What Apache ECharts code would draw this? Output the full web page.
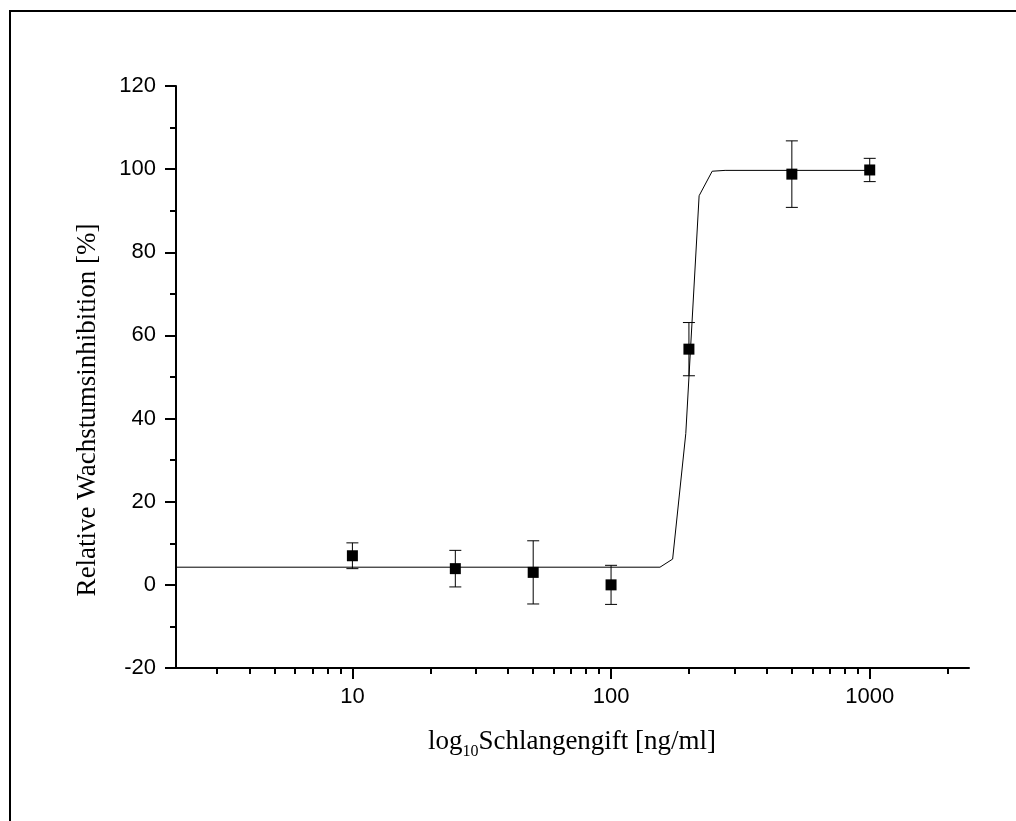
<!DOCTYPE html>
<html>
<head>
<meta charset="utf-8">
<style>
  html, body { margin: 0; padding: 0; background: #fff; }
  #chart { width: 1016px; height: 821px; }
</style>
<script src="https://cdn.jsdelivr.net/npm/echarts@6/dist/echarts.min.js"></script>
</head>
<body>
<div id="chart"></div>
<script>
// ---- data ----
const concentrations = [10, 25, 50, 100, 200, 500, 1000];
const inhibition     = [7.0, 3.9, 3.0, 0.0, 56.7, 98.8, 99.8];
const errors         = [3.1, 4.4, 7.6, 4.7, 6.4, 8.0, 2.8];

const fitX = [2.08, 154.6, 173, 194.5, 219, 246, 276, 1000];
const fitY = [4.25, 4.25, 6.2, 36.4, 93.6, 99.5, 99.7, 99.7];

const xMajorTicks = [10, 100, 1000];
const xMinorTicks = [3, 4, 5, 6, 7, 8, 9,
                     20, 30, 40, 50, 60, 70, 80, 90,
                     200, 300, 400, 500, 600, 700, 800, 900,
                     2000];
const xMin = 2.08, xMax = 2420;
const yMin = -20, yMax = 120, yInterval = 20;

const xTitleRich = '{a|log}{s|10}{a|Schlangengift [ng/ml]}';
const yTitle = 'Relative Wachstumsinhibition [%]';

// ---- chart ----
const chart = echarts.init(document.getElementById('chart'), null, { renderer: 'canvas' });

const sans = 'Liberation Sans, Arial, sans-serif';
const serif = 'Liberation Serif, Times New Roman, serif';

const option = {
  animation: false,
  backgroundColor: '#ffffff',
  grid: { left: 176, right: 47, top: 86, bottom: 153, containLabel: false },
  xAxis: [
    {
      type: 'log', logBase: 10, min: xMin, max: xMax, position: 'bottom',
      axisLine: { show: true, onZero: false, lineStyle: { color: '#000', width: 2 } },
      axisTick: { show: true, inside: false, length: 11, customValues: xMajorTicks,
                  lineStyle: { color: '#000', width: 2 } },
      axisLabel: { show: true, customValues: xMajorTicks, margin: 18,
                   formatter: function (v) { return String(Math.round(v)); },
                   color: '#000', fontFamily: sans, fontSize: 22 },
      splitLine: { show: false },
      minorTick: { show: false }
    },
    {
      type: 'log', logBase: 10, min: xMin, max: xMax, position: 'bottom',
      axisLine: { show: false, onZero: false },
      axisTick: { show: true, inside: false, length: 6, customValues: xMinorTicks,
                  lineStyle: { color: '#000', width: 2 } },
      axisLabel: { show: false },
      splitLine: { show: false }
    }
  ],
  yAxis: {
    type: 'value', min: yMin, max: yMax, interval: yInterval,
    axisLine: { show: true, onZero: false, lineStyle: { color: '#000', width: 2 } },
    axisTick: { show: true, inside: false, length: 11, lineStyle: { color: '#000', width: 2 } },
    minorTick: { show: true, splitNumber: 2, length: 6, lineStyle: { color: '#000', width: 2 } },
    axisLabel: { margin: 20, color: '#000', fontFamily: sans, fontSize: 22 },
    splitLine: { show: false },
    minorSplitLine: { show: false }
  },
  series: [
    {
      type: 'line',
      xAxisIndex: 0,
      data: fitX.map((x, i) => [x, fitY[i]]),
      showSymbol: false,
      symbol: 'none',
      lineStyle: { color: '#000', width: 1 },
      z: 2
    },
    {
      type: 'custom',
      xAxisIndex: 0,
      data: concentrations.map((x, i) => [x, inhibition[i] - errors[i], inhibition[i] + errors[i]]),
      renderItem: function (params, api) {
        const lo = api.coord([api.value(0), api.value(1)]);
        const hi = api.coord([api.value(0), api.value(2)]);
        const cap = 6;
        const st = { stroke: '#000', lineWidth: 1 };
        return {
          type: 'group',
          children: [
            { type: 'line', shape: { x1: lo[0], y1: lo[1], x2: hi[0], y2: hi[1] }, style: st },
            { type: 'line', shape: { x1: lo[0] - cap, y1: lo[1], x2: lo[0] + cap, y2: lo[1] }, style: st },
            { type: 'line', shape: { x1: hi[0] - cap, y1: hi[1], x2: hi[0] + cap, y2: hi[1] }, style: st }
          ]
        };
      },
      z: 3
    },
    {
      type: 'scatter',
      xAxisIndex: 0,
      data: concentrations.map((x, i) => [x, inhibition[i]]),
      symbol: 'rect',
      symbolSize: 11,
      itemStyle: { color: '#000', opacity: 1 },
      z: 4
    }
  ],
  graphic: [
    {
      type: 'rect',
      shape: { x: 10, y: 11, width: 1100, height: 900 },
      style: { fill: 'none', stroke: '#000', lineWidth: 2 },
      silent: true
    },
    {
      type: 'text',
      x: 88, y: 410,
      rotation: Math.PI / 2,
      style: {
        text: yTitle,
        fontFamily: serif, fontSize: 27, fill: '#000',
        align: 'center', verticalAlign: 'middle'
      }
    },
    {
      type: 'text',
      x: 572, y: 724,
      style: {
        text: xTitleRich,
        align: 'center', verticalAlign: 'top',
        rich: {
          a: { fontFamily: serif, fontSize: 27, lineHeight: 36, fill: '#000' },
          s: { fontFamily: serif, fontSize: 16, lineHeight: 12, verticalAlign: 'bottom', fill: '#000' }
        }
      }
    }
  ]
};

chart.setOption(option);
</script>
</body>
</html>
